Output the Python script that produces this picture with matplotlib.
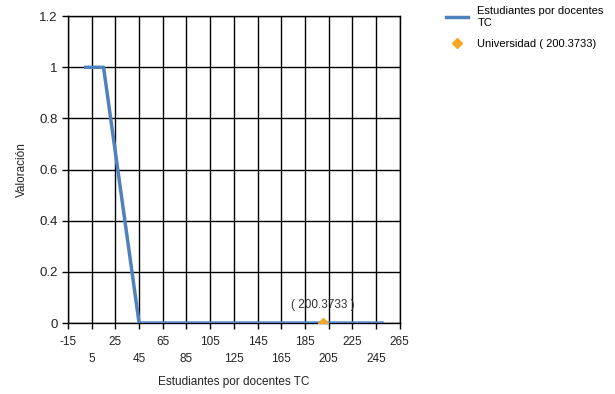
import numpy as np
import matplotlib
matplotlib.use('Agg')
from matplotlib import pyplot as plt

plt.rcParams['font.family'] = ['Liberation Sans', 'DejaVu Sans']

# curve data
x_vals = [0, 15, 45, 250]
y_vals = [1, 1, 0, 0]
uni_x = [200.3733]
uni_y = [0]
uni_label = '( 200.3733 )'
x_ticks = list(range(-15, 266, 20))
y_ticks = [0, 0.2, 0.4, 0.6, 0.8, 1, 1.2]
y_tick_labels = ['0', '0.2', '0.4', '0.6', '0.8', '1', '1.2']

fig = plt.figure(figsize=(6.15, 3.94), dpi=100)
ax = fig.add_axes([0.1106, 0.180, 0.5394, 0.779])

ax.plot(x_vals, y_vals, color='#4f81bd', lw=2.5, label='Estudiantes por docentes\nTC', zorder=3)
ax.plot(uni_x, uni_y, ls='none', marker='D', ms=5, color='#f5a623',
        label='Universidad ( 200.3733)', zorder=4)
ax.annotate(uni_label, (uni_x[0], uni_y[0]), xytext=(0, 9), textcoords='offset points',
            ha='center', va='bottom', fontsize=8.5, color='#333333')

ax.set_xlim(-15, 265)
ax.set_ylim(0, 1.2)
ax.set_xticks(x_ticks)
labels = []
for i, t in enumerate(x_ticks):
    labels.append(str(t) if i % 2 == 0 else '\n' + str(t))
ax.set_xticklabels(labels, fontsize=8.5, color='#222222', linespacing=1.6)
ax.set_yticks(y_ticks)
ax.set_yticklabels(y_tick_labels, fontsize=9.5, color='#222222')
ax.grid(True, color='black', lw=1)
ax.tick_params(length=4, width=1, color='black')
ax.tick_params(axis='x', pad=5)
for s in ax.spines.values():
    s.set_color('black')
    s.set_linewidth(1)

ax.set_xlabel('Estudiantes por docentes TC', fontsize=8.5, color='#222222', labelpad=8)
ax.set_ylabel('Valoración', fontsize=8.5, color='#222222', labelpad=8)

leg = ax.legend(loc='upper left', bbox_to_anchor=(1.11, 1.065), frameon=False,
                fontsize=8, handlelength=2.0, labelspacing=1.0)

fig.savefig('out.png', dpi=100)
